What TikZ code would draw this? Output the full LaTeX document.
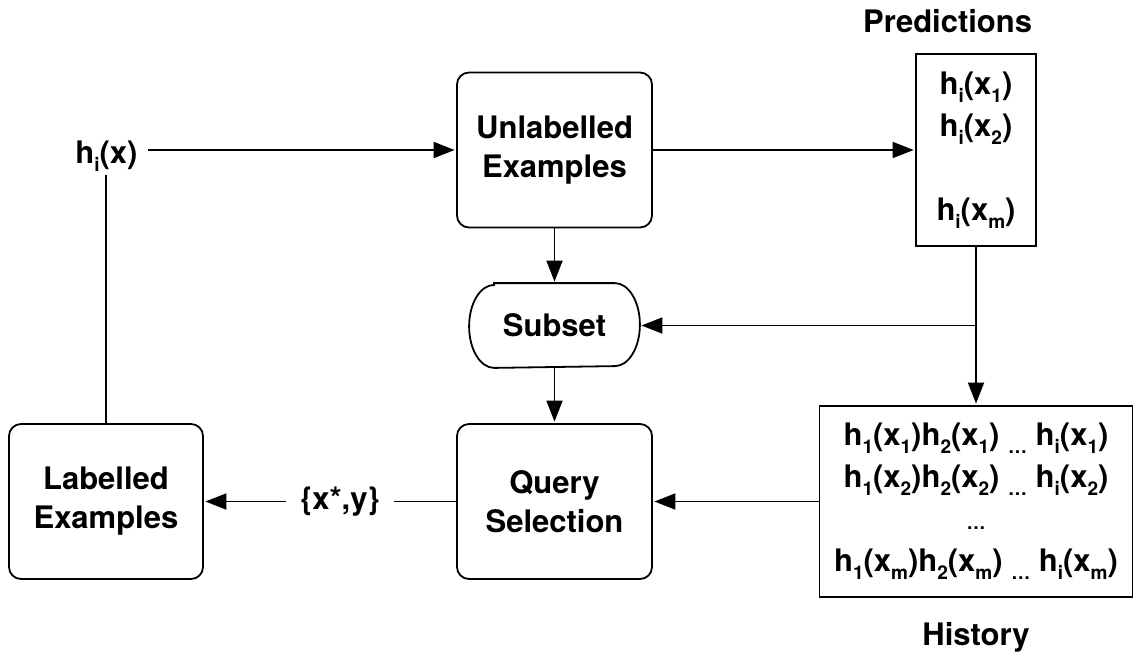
\documentclass[tikz,border=0pt]{standalone}
\usepackage{fontspec}
\setmainfont{TeX Gyre Heros}
\usetikzlibrary{arrows.meta}
% lowered, smaller index text
\newcommand{\lo}[1]{\raisebox{-8pt}{\fontsize{19}{19}\selectfont #1}}
\begin{document}
\begin{tikzpicture}[x=1pt,y=-1pt,line width=1.8pt,
  every node/.style={font=\bfseries\fontsize{31}{39}\selectfont, align=center},
  arr/.style={-{Triangle[length=21pt,width=16pt]}, shorten >=1.5pt},
  rbox/.style={draw, rounded corners=12pt, minimum width=195pt, minimum height=155pt, inner sep=0pt},
  sbox/.style={draw, inner sep=0pt, font=\bfseries\fontsize{31}{42}\selectfont},
  label/.style={inner sep=0pt}]
\useasboundingbox (0,0) rectangle (1137,657);

% main boxes
\node[rbox] (unl) at (554.5,150) {Unlabelled\\Examples};
\node[sbox, minimum width=120pt, minimum height=192pt] (pred) at (976,150)
  {h\lo{i}(x\lo{1})\\h\lo{i}(x\lo{2})\\[42pt]h\lo{i}(x\lo{m})};
\node[minimum width=169pt, minimum height=83pt, inner sep=0pt] (sub) at (554.5,325.5) {Subset};
\draw ([xshift=25pt]sub.north west) -- ([xshift=-25pt]sub.north east)
  arc[start angle=90, end angle=-90, x radius=25pt, y radius=41.5pt]
  -- ([xshift=25pt]sub.south west)
  arc[start angle=270, end angle=90, x radius=25pt, y radius=41.5pt] -- cycle;
\node[rbox] (qry) at (554.5,501.5) {Query\\Selection};
\node[rbox, minimum width=194pt] (lab) at (106,501.5) {Labelled\\Examples};
\node[sbox, minimum width=313pt, minimum height=191pt] (hist) at (976,501.5)
  {h\lo{1}(x\lo{1})h\lo{2}(x\lo{1}) \lo{…} h\lo{i}(x\lo{1})\\
   h\lo{1}(x\lo{2})h\lo{2}(x\lo{2}) \lo{…} h\lo{i}(x\lo{2})\\
   {\fontsize{19}{19}\selectfont …}\\
   h\lo{1}(x\lo{m})h\lo{2}(x\lo{m}) \lo{…} h\lo{i}(x\lo{m})};

% free labels
\node[label, anchor=base east] (plab) at (1033,32) {Predictions};
\node[label, anchor=base] (hlab) at (976,645) {History};
\node[anchor=base, inner xsep=10pt, inner ysep=3pt] (hx) at (106.5,163) {h\lo{i}(x)};
\node[inner xsep=13pt, inner ysep=0pt] (xy) at (340,501.5) {\{x*,y\}};

% connectors
\draw[arr] (hx.east |- unl.west) -- (unl.west);
\draw[arr] (unl.east) -- (pred.west);
\draw[arr] (unl.south) -- (sub.north);
\draw[arr] (pred.south) -- (hist.north);
\draw[arr] (pred.south |- sub.east) -- (sub.east);
\draw[arr] (sub.south) -- (qry.north);
\draw[arr] (hist.west) -- (qry.east);
\draw (qry.west) -- (xy.east);
\draw[arr] (xy.west) -- (lab.east);
\draw (lab.north) -- (lab.north |- hx.south);
\end{tikzpicture}
\end{document}
